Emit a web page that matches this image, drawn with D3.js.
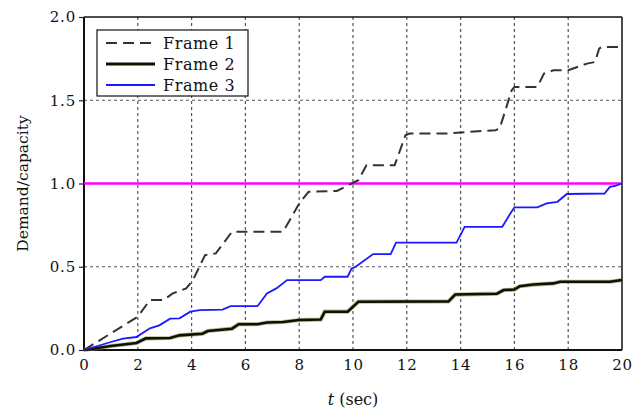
<!DOCTYPE html>
<html>
<head>
<meta charset="utf-8">
<script src="https://cdn.jsdelivr.net/npm/d3@7"></script>
<style>
  body { margin: 0; background: #fff; }
  svg { display: block; }
  text { font-family: "DejaVu Serif", "Liberation Serif", serif; fill: #111; }
</style>
</head>
<body>
<svg id="chart" width="642" height="410"></svg>
<script>
// Data: time (sec) and demand/capacity ratio
const frame1T = [0, 0.5, 1, 1.5, 2.0, 2.45, 2.95, 3.3, 3.8, 4.05, 4.5, 4.9, 5.5, 7.4, 8.0, 8.35, 9.4, 9.95, 10.2, 10.5, 11.55, 11.95, 12.1, 13.5, 14.3, 15.3, 15.45, 15.9, 16.0, 16.85, 17.1, 17.45, 18.0, 18.7, 19.0, 19.15, 19.25, 20];
const frame1V = [0, 0.05, 0.1, 0.15, 0.2, 0.3, 0.3, 0.34, 0.37, 0.42, 0.57, 0.58, 0.71, 0.71, 0.88, 0.95, 0.955, 1.0, 1.02, 1.11, 1.11, 1.29, 1.3, 1.3, 1.31, 1.32, 1.33, 1.56, 1.58, 1.58, 1.66, 1.68, 1.68, 1.72, 1.73, 1.81, 1.82, 1.82];

const frame2T = [0, 1.0, 1.95, 2.3, 3.2, 3.55, 4.4, 4.6, 5.5, 5.75, 6.45, 6.8, 7.4, 8.0, 8.8, 8.95, 9.8, 10.2, 13.55, 13.8, 15.35, 15.6, 16.0, 16.2, 16.7, 17.45, 17.7, 19.55, 20];
const frame2V = [0, 0.024, 0.042, 0.07, 0.072, 0.088, 0.098, 0.114, 0.128, 0.155, 0.155, 0.165, 0.168, 0.18, 0.183, 0.23, 0.23, 0.29, 0.292, 0.333, 0.338, 0.36, 0.363, 0.383, 0.393, 0.4, 0.41, 0.41, 0.42];

const frame3T = [0, 1.0, 1.45, 1.95, 2.45, 2.8, 3.2, 3.55, 3.95, 4.3, 5.15, 5.45, 6.45, 6.8, 7.15, 7.55, 8.8, 8.95, 9.8, 9.95, 10.1, 10.75, 11.4, 11.6, 13.85, 14.15, 15.55, 15.85, 16.0, 16.85, 17.2, 17.6, 17.95, 19.35, 19.55, 19.75, 20];
const frame3V = [0, 0.048, 0.068, 0.078, 0.13, 0.148, 0.188, 0.19, 0.23, 0.24, 0.243, 0.263, 0.263, 0.34, 0.37, 0.42, 0.42, 0.44, 0.44, 0.49, 0.5, 0.576, 0.576, 0.645, 0.645, 0.74, 0.74, 0.82, 0.857, 0.857, 0.88, 0.89, 0.937, 0.94, 0.98, 0.985, 1.0];

const limitT = [0, 20];
const limitV = [1, 1];

const xTicks = [0, 2, 4, 6, 8, 10, 12, 14, 16, 18, 20];
const yTicks = [0, 0.5, 1.0, 1.5, 2.0];
const seriesNames = ["Frame 1", "Frame 2", "Frame 3"];

// Layout
const margin = { left: 84, right: 20, top: 17, bottom: 60 };
const svg = d3.select("#chart");
const width = +svg.attr("width");
const height = +svg.attr("height");

const x = d3.scaleLinear().domain([0, 20]).range([margin.left, width - margin.right]);
const y = d3.scaleLinear().domain([0, 2]).range([height - margin.bottom, margin.top]);

// Grid
const grid = svg.append("g").attr("stroke", "#555").attr("stroke-width", 1.2).attr("stroke-dasharray", "3,3");
grid.selectAll("line.vx")
    .data(xTicks.slice(1, -1))
    .join("line")
    .attr("x1", d => x(d)).attr("x2", d => x(d))
    .attr("y1", y(0)).attr("y2", y(2));
grid.selectAll("line.hy")
    .data(yTicks.slice(1, -1))
    .join("line")
    .attr("x1", x(0)).attr("x2", x(20))
    .attr("y1", d => y(d)).attr("y2", d => y(d));

// Axes
const xAxis = svg.append("g")
    .attr("transform", `translate(0,${y(0)})`)
    .call(d3.axisBottom(x).tickValues(xTicks).tickSize(0).tickPadding(9).tickFormat(d3.format("d")));
const yAxis = svg.append("g")
    .attr("transform", `translate(${x(0)},0)`)
    .call(d3.axisLeft(y).tickValues(yTicks).tickSize(5).tickPadding(3).tickFormat(d3.format(".1f")));

[xAxis, yAxis].forEach(a => {
    a.select(".domain").remove();
    a.selectAll("text")
        .style("font-family", '"DejaVu Serif", serif')
        .style("font-size", "15px")
        .style("letter-spacing", "0.8px")
        .attr("fill", "#111");
    a.selectAll("line").attr("stroke", "#222").attr("stroke-width", 1.2);
});

// Frame box
svg.append("line").attr("x1", x(0)).attr("x2", x(0)).attr("y1", y(0)).attr("y2", y(2)).attr("stroke", "#111").attr("stroke-width", 2);
svg.append("line").attr("x1", x(0)).attr("x2", x(20)).attr("y1", y(0)).attr("y2", y(0)).attr("stroke", "#111").attr("stroke-width", 2);
svg.append("line").attr("x1", x(0)).attr("x2", x(20)).attr("y1", y(2)).attr("y2", y(2)).attr("stroke", "#111").attr("stroke-width", 1.5);
svg.append("line").attr("x1", x(20)).attr("x2", x(20)).attr("y1", y(0)).attr("y2", y(2)).attr("stroke", "#111").attr("stroke-width", 1.5);

// Lines
const zip = (ts, vs) => ts.map((t, i) => [t, vs[i]]);
const line = d3.line().x(d => x(d[0])).y(d => y(d[1]));

svg.append("path").datum(zip(limitT, limitV))
    .attr("d", line).attr("fill", "none").attr("stroke", "#ff00ff").attr("stroke-width", 2.5);

svg.append("path").datum(zip(frame2T, frame2V))
    .attr("d", line).attr("fill", "none").attr("stroke", "#8a8a60").attr("stroke-width", 4.2).attr("stroke-opacity", 0.6);
svg.append("path").datum(zip(frame2T, frame2V))
    .attr("d", line).attr("fill", "none").attr("stroke", "#111100").attr("stroke-width", 2.6);

svg.append("path").datum(zip(frame3T, frame3V))
    .attr("d", line).attr("fill", "none").attr("stroke", "#1a1aff").attr("stroke-width", 1.8);

svg.append("path").datum(zip(frame1T, frame1V))
    .attr("d", line).attr("fill", "none").attr("stroke", "#333").attr("stroke-width", 2).attr("stroke-dasharray", "11,6");

// Axis titles
svg.append("text")
    .attr("transform", `translate(28,${(y(0) + y(2)) / 2}) rotate(-90)`)
    .attr("text-anchor", "middle")
    .style("font-size", "15.5px")
    .text("Demand/capacity");

const xt = svg.append("text")
    .attr("x", (x(0) + x(20)) / 2)
    .attr("y", 405)
    .attr("text-anchor", "middle")
    .style("font-size", "16px");
xt.append("tspan").style("font-style", "italic").text("t");
xt.append("tspan").text(" (sec)");

// Legend
const legend = svg.append("g").attr("transform", "translate(97,30)");
legend.append("rect").attr("width", 151).attr("height", 66)
    .attr("fill", "#fff").attr("stroke", "#111").attr("stroke-width", 1.2);
const legendStyles = [
    { stroke: "#333", width: 2, dash: "11,6" },
    { stroke: "#111100", width: 3, dash: null },
    { stroke: "#1a1aff", width: 2, dash: null }
];
seriesNames.forEach((name, i) => {
    const ly = 13 + i * 21;
    legend.append("line")
        .attr("x1", 9).attr("x2", 58).attr("y1", ly).attr("y2", ly)
        .attr("stroke", legendStyles[i].stroke)
        .attr("stroke-width", legendStyles[i].width)
        .attr("stroke-dasharray", legendStyles[i].dash);
    legend.append("text")
        .attr("x", 66).attr("y", ly + 6)
        .style("font-size", "16px")
        .style("letter-spacing", "0.6px")
        .text(name);
});
</script>
</body>
</html>
